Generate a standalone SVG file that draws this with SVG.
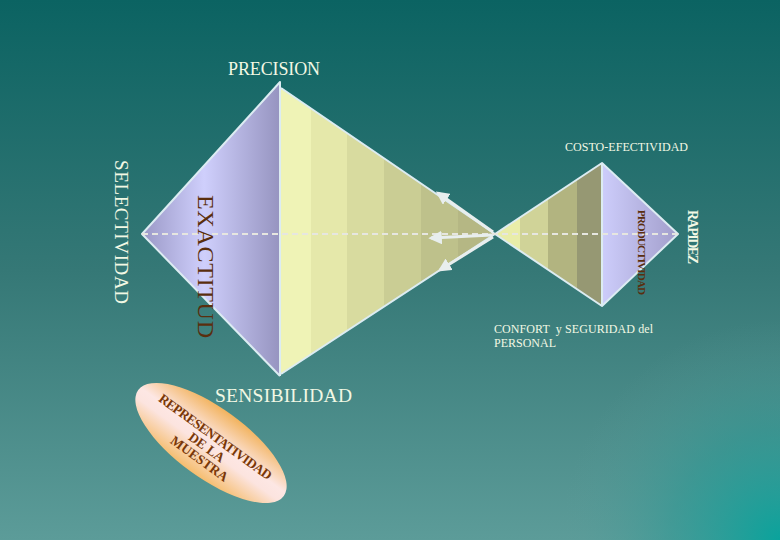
<svg xmlns="http://www.w3.org/2000/svg" width="780" height="540" viewBox="0 0 780 540">
<defs>
<linearGradient id="bg" x1="0" y1="0" x2="0" y2="1">
<stop offset="0" stop-color="#0b6362"/>
<stop offset="0.5" stop-color="#357876"/>
<stop offset="1" stop-color="#5c9c99"/>
</linearGradient>
<radialGradient id="bgr" cx="780" cy="540" r="220" gradientUnits="userSpaceOnUse">
<stop offset="0" stop-color="#0aa39c" stop-opacity="1"/>
<stop offset="0.5" stop-color="#2a9a95" stop-opacity="0.5"/>
<stop offset="1" stop-color="#5c9c99" stop-opacity="0"/>
</radialGradient>
<linearGradient id="blueL" x1="142" y1="0" x2="280" y2="0" gradientUnits="userSpaceOnUse">
<stop offset="0" stop-color="#9a98c6"/>
<stop offset="0.45" stop-color="#cfcffc"/>
<stop offset="1" stop-color="#9694c0"/>
</linearGradient>
<linearGradient id="blueR" x1="602" y1="0" x2="678" y2="0" gradientUnits="userSpaceOnUse">
<stop offset="0" stop-color="#cdcdfb"/>
<stop offset="1" stop-color="#a29ecb"/>
</linearGradient>
<linearGradient id="ell" x1="0" y1="-35" x2="0" y2="35" gradientUnits="userSpaceOnUse">
<stop offset="0" stop-color="#f2b35e"/>
<stop offset="0.45" stop-color="#fde7e4"/>
<stop offset="0.6" stop-color="#fce4df"/>
<stop offset="1" stop-color="#f5bd6e"/>
</linearGradient>
<clipPath id="clipL"><polygon points="281,88 495,234 281,374"/></clipPath>
<clipPath id="clipR"><polygon points="495,234 602,163 602,306"/></clipPath>
<marker id="ah" viewBox="0 0 10 10" refX="8" refY="5" markerWidth="4.5" markerHeight="4.5" orient="auto" markerUnits="strokeWidth">
<path d="M0,0 L10,5 L0,10 z" fill="#e8eeee"/>
</marker>
<style>
.lbl{font-family:"Liberation Serif","Times New Roman",serif;fill:#f2f8e4}
.brn{font-family:"Liberation Serif","Times New Roman",serif;fill:#5a2e0e}
.edge{fill:none;stroke:#dcecf2;stroke-width:2;stroke-linejoin:round}
.arr{stroke:#e8eeee;stroke-width:3;fill:none;marker-end:url(#ah)}
.ell{font-family:"Liberation Serif","Times New Roman",serif;font-weight:bold;fill:#7a3808;font-size:13.5px}
</style>
</defs>
<rect width="780" height="540" fill="url(#bg)"/>
<rect width="780" height="540" fill="url(#bgr)"/>

<g id="left-diamond">
<polygon points="142,234 280,82 280,376" fill="url(#blueL)"/>
<g clip-path="url(#clipL)">
<rect x="281" y="80" width="30" height="300" fill="#eff3b6"/>
<rect x="311" y="80" width="36" height="300" fill="#e5e8aa"/>
<rect x="347" y="80" width="37" height="300" fill="#d8db9f"/>
<rect x="384" y="80" width="37" height="300" fill="#cacd94"/>
<rect x="421" y="80" width="37" height="300" fill="#bec18b"/>
<rect x="458" y="80" width="40" height="300" fill="#b5b784"/>
</g>
<polyline class="edge" points="280,376 142,234 280,82 280,376"/>
<polyline class="edge" points="281,88 495,234 281,374"/>
</g>

<g id="right-diamond">
<g clip-path="url(#clipR)">
<rect x="493" y="160" width="27" height="150" fill="#e9eda9"/>
<rect x="520" y="160" width="28" height="150" fill="#d0d398"/>
<rect x="548" y="160" width="29" height="150" fill="#b2b480"/>
<rect x="577" y="160" width="26" height="150" fill="#969873"/>
</g>
<polygon points="602,163 678,234 602,306" fill="url(#blueR)"/>
<polyline class="edge" points="495,234 602,163 678,234 602,306 495,234"/>
<line class="edge" x1="602" y1="163" x2="602" y2="306"/>
</g>

<g id="connectors">
<line x1="142" y1="234" x2="678" y2="234" stroke="#e6e6e0" stroke-width="2" stroke-dasharray="6,4"/>
<line class="arr" x1="493" y1="232" x2="438" y2="193"/>
<line class="arr" x1="492" y1="235" x2="431" y2="238"/>
<line class="arr" x1="493" y1="237" x2="440" y2="270"/>
</g>

<g id="labels">
<text class="lbl" x="228" y="75" font-size="18" textLength="92">PRECISION</text>
<text class="lbl" x="565" y="151" font-size="12" textLength="123">COSTO-EFECTIVIDAD</text>
<text class="lbl" transform="translate(115,160) rotate(90)" font-size="19" textLength="144">SELECTIVIDAD</text>
<text class="brn" transform="translate(198,195) rotate(90)" font-size="24" textLength="143">EXACTITUD</text>
<text class="lbl" transform="translate(688,210) rotate(90)" font-size="14" font-weight="bold" textLength="54">RAPIDEZ</text>
<text class="brn" transform="translate(638,210) rotate(90)" font-size="11" font-weight="bold" textLength="85">PRODUCTIVIDAD</text>
<text class="lbl" x="215" y="402" font-size="19.5" textLength="137">SENSIBILIDAD</text>
<text class="lbl" x="494" y="333" font-size="12" xml:space="preserve" textLength="159">CONFORT  y SEGURIDAD del</text>
<text class="lbl" x="494" y="347" font-size="12">PERSONAL</text>
</g>

<g id="muestra" transform="translate(211,443) rotate(36)">
<ellipse cx="0" cy="0" rx="90" ry="35" fill="url(#ell)"/>
<text class="ell" x="0" y="-3" text-anchor="middle" textLength="136">REPRESENTATIVIDAD</text>
<text class="ell" x="-1" y="10.5" text-anchor="middle">DE LA</text>
<text class="ell" x="0" y="24" text-anchor="middle">MUESTRA</text>
</g>
</svg>
